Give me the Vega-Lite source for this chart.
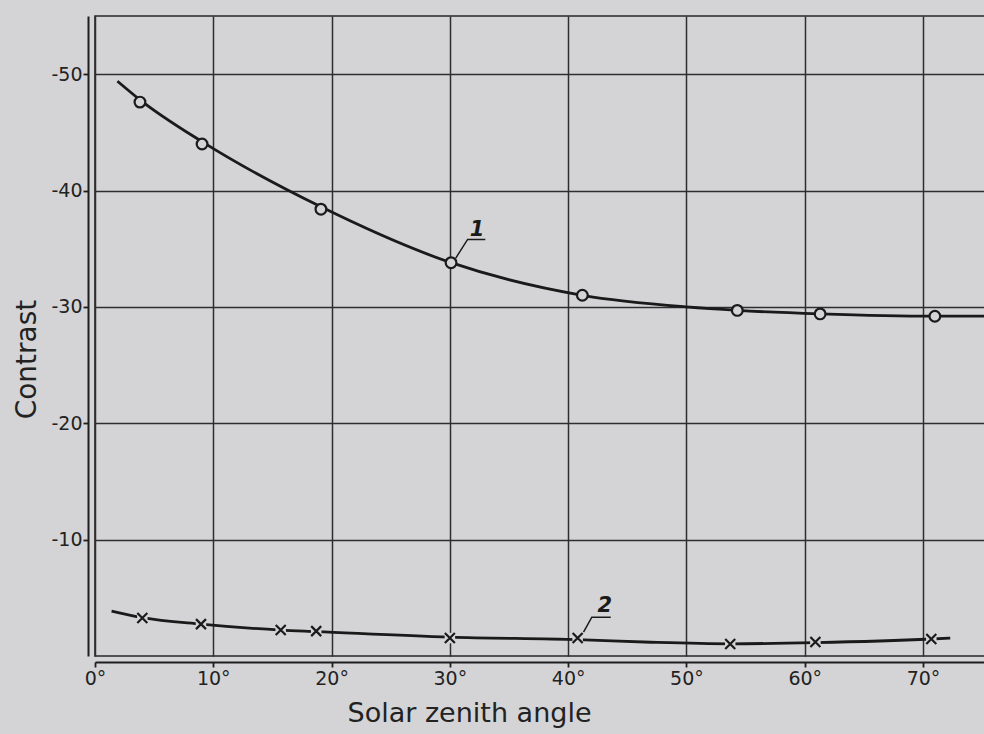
{
  "$schema": "https://vega.github.io/schema/vega-lite/v6.json",
  "width": 899,
  "height": 640,
  "autosize": {"type": "none"},
  "padding": {"left": 95, "top": 16, "right": 0, "bottom": 78},
  "background": "#d4d4d6",
  "config": {
    "view": {"stroke": "#262626", "strokeWidth": 1.6, "fill": "#d4d4d6"},
    "font": "DejaVu Sans",
    "axis": {
      "labelFont": "DejaVu Sans",
      "titleFont": "DejaVu Sans",
      "labelColor": "#222222",
      "titleColor": "#222222",
      "titleFontWeight": "normal",
      "domainColor": "#1e1e1e",
      "domainWidth": 2,
      "tickColor": "#1e1e1e",
      "tickWidth": 1.8,
      "gridColor": "#2e2e2e",
      "gridWidth": 1.5,
      "gridOpacity": 1
    }
  },
  "datasets": {
    "curves": [
      {"curve": "1", "angle": 1.9, "contrast": -49.4},
      {"curve": "1", "angle": 3.8, "contrast": -47.8},
      {"curve": "1", "angle": 9.05, "contrast": -44.2},
      {"curve": "1", "angle": 19.1, "contrast": -38.6},
      {"curve": "1", "angle": 30.1, "contrast": -33.8},
      {"curve": "1", "angle": 41.2, "contrast": -31.0},
      {"curve": "1", "angle": 50.0, "contrast": -30.0},
      {"curve": "1", "angle": 54.3, "contrast": -29.7},
      {"curve": "1", "angle": 61.3, "contrast": -29.4},
      {"curve": "1", "angle": 71.0, "contrast": -29.2},
      {"curve": "1", "angle": 76.0, "contrast": -29.2},
      {"curve": "2", "angle": 1.4, "contrast": -3.86},
      {"curve": "2", "angle": 4.0, "contrast": -3.3},
      {"curve": "2", "angle": 8.96, "contrast": -2.74},
      {"curve": "2", "angle": 15.7, "contrast": -2.23},
      {"curve": "2", "angle": 18.7, "contrast": -2.1},
      {"curve": "2", "angle": 30.0, "contrast": -1.62},
      {"curve": "2", "angle": 40.8, "contrast": -1.4},
      {"curve": "2", "angle": 47.0, "contrast": -1.18},
      {"curve": "2", "angle": 53.7, "contrast": -1.05},
      {"curve": "2", "angle": 60.9, "contrast": -1.15},
      {"curve": "2", "angle": 70.7, "contrast": -1.46},
      {"curve": "2", "angle": 72.3, "contrast": -1.54}
    ],
    "circles": [
      {"angle": 3.8, "contrast": -47.6},
      {"angle": 9.05, "contrast": -44.0},
      {"angle": 19.1, "contrast": -38.4},
      {"angle": 30.1, "contrast": -33.8},
      {"angle": 41.2, "contrast": -31.0},
      {"angle": 54.3, "contrast": -29.7},
      {"angle": 61.3, "contrast": -29.4},
      {"angle": 71.0, "contrast": -29.2}
    ],
    "crosses": [
      {"angle": 4.0, "contrast": -3.26},
      {"angle": 8.96, "contrast": -2.74},
      {"angle": 15.7, "contrast": -2.23},
      {"angle": 18.7, "contrast": -2.14},
      {"angle": 30.0, "contrast": -1.54},
      {"angle": 40.8, "contrast": -1.54},
      {"angle": 53.7, "contrast": -1.03},
      {"angle": 60.9, "contrast": -1.2},
      {"angle": 70.7, "contrast": -1.46}
    ],
    "leaders": [
      {"id": "1", "order": 1, "angle": 30.5, "contrast": -34.2},
      {"id": "1", "order": 2, "angle": 31.5, "contrast": -35.8},
      {"id": "1", "order": 3, "angle": 33.0, "contrast": -35.8},
      {"id": "2", "order": 1, "angle": 41.3, "contrast": -2.06},
      {"id": "2", "order": 2, "angle": 42.0, "contrast": -3.34},
      {"id": "2", "order": 3, "angle": 43.6, "contrast": -3.34}
    ],
    "labels": [
      {"label": "1", "angle": 32.3, "contrast": -36.6},
      {"label": "2", "angle": 43.1, "contrast": -4.3}
    ]
  },
  "encoding": {
    "x": {
      "field": "angle",
      "type": "quantitative",
      "scale": {"domain": [0, 76], "nice": false, "zero": false},
      "axis": {
        "title": "Solar zenith angle",
        "titleFontSize": 27,
        "titleX": 374,
        "titleAnchor": "start",
        "titleAlign": "center",
        "titlePadding": 12,
        "values": [0, 10, 20, 30, 40, 50, 60, 70],
        "labelExpr": "datum.value + '°'",
        "labelFontSize": 19,
        "labelPadding": 2,
        "labelFlush": false,
        "offset": 6,
        "tickSize": 5,
        "grid": true
      }
    },
    "y": {
      "field": "contrast",
      "type": "quantitative",
      "scale": {"domain": [0, -55], "nice": false, "zero": false},
      "axis": {
        "title": "Contrast",
        "titleFontSize": 28,
        "titleX": -61,
        "titleY": 343,
        "titleAlign": "center",
        "titleBaseline": "middle",
        "titleAngle": -90,
        "values": [-10, -20, -30, -40, -50],
        "labelExpr": "'-' + abs(datum.value)",
        "labelFontSize": 19,
        "labelPadding": 1,
        "offset": 7,
        "tickSize": 5,
        "grid": true
      }
    }
  },
  "layer": [
    {
      "data": {"name": "curves"},
      "mark": {"type": "line", "interpolate": "monotone", "color": "#1a1a1a", "strokeWidth": 2.8, "clip": true},
      "encoding": {"detail": {"field": "curve"}}
    },
    {
      "data": {"name": "leaders"},
      "mark": {"type": "line", "color": "#1a1a1a", "strokeWidth": 1.5},
      "encoding": {"detail": {"field": "id"}, "order": {"field": "order"}}
    },
    {
      "data": {"name": "crosses"},
      "mark": {"type": "point", "shape": "square", "filled": true, "color": "#d4d4d6", "opacity": 1, "size": 110},
      "encoding": {}
    },
    {
      "data": {"name": "circles"},
      "mark": {"type": "point", "shape": "circle", "filled": false, "fill": "#d4d4d6", "fillOpacity": 1, "stroke": "#1a1a1a", "strokeWidth": 2.2, "size": 115, "opacity": 1},
      "encoding": {}
    },
    {
      "data": {"name": "crosses"},
      "mark": {"type": "point", "shape": "M-1,-1L1,1M1,-1L-1,1", "filled": false, "stroke": "#1a1a1a", "strokeWidth": 2.2, "size": 100, "opacity": 1},
      "encoding": {}
    },
    {
      "data": {"name": "labels"},
      "mark": {"type": "text", "font": "DejaVu Sans", "fontStyle": "italic", "fontWeight": "bold", "fontSize": 21, "color": "#1a1a1a", "align": "center", "baseline": "middle"},
      "encoding": {"text": {"field": "label"}}
    }
  ]
}
